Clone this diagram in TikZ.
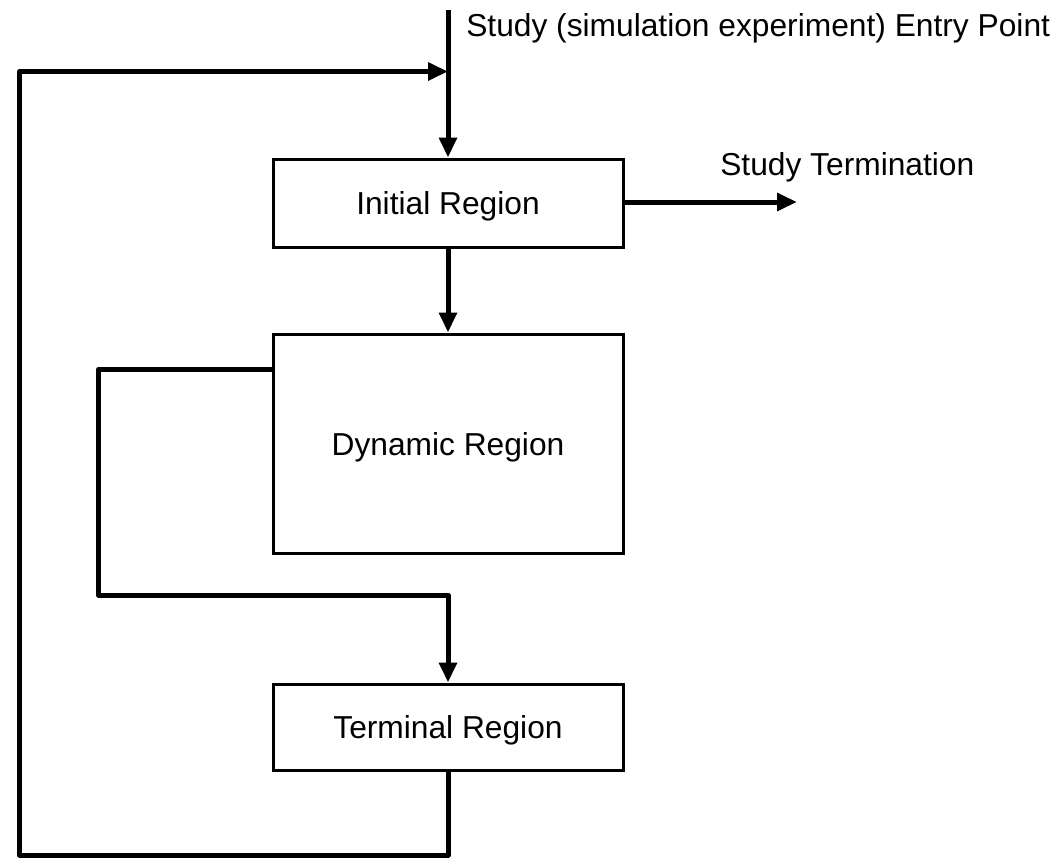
\documentclass[tikz,border=0pt]{standalone}
\usepackage{fontspec}
\setmainfont{Liberation Sans}
\usetikzlibrary{arrows.meta}
\begin{document}
\begin{tikzpicture}[x=0.75pt,y=-0.75pt,
  font=\fontsize{23.8}{28}\selectfont,
  regionbox/.style={draw,line width=2.25pt,minimum width=262.5pt,inner sep=0pt,text depth=0pt,anchor=center},
  flow/.style={line width=3.75pt,line join=round},
  flowarrow/.style={flow,-{Triangle[length=15pt,width=13pt]}},
  lbl/.style={anchor=base west,inner sep=0pt}]
\useasboundingbox (0,0) rectangle (1053,858);
\node[regionbox,minimum height=66pt] (init) at (448,203) {Initial Region};
\node[regionbox,minimum height=164.25pt] (dyn) at (448,443.5) {Dynamic Region};
\node[regionbox,minimum height=64.5pt] (term) at (448,727) {Terminal Region};
\node[lbl] (entrylbl) at (466,36) {Study (simulation experiment) Entry Point};
\node[lbl] (termlbl) at (720,175) {Study Termination};
\coordinate (top) at (448,10);
\coordinate (join) at (448,71.5);
\coordinate (exitpt) at (797,202);
\coordinate (bl) at (19.5,855);
\coordinate (tl) at (19.5,71.5);
\coordinate (br) at (448,855);
\coordinate (dl1) at (98.5,369.5);
\coordinate (dl2) at (98.5,595);
\coordinate (dl3) at (448,595);
\draw[flowarrow] (top) -- (init.north);
\draw[flowarrow] (init.east |- exitpt) -- (exitpt);
\draw[flowarrow] (init.south) -- (dyn.north);
\draw[flowarrow] (dyn.west |- dl1) -- (dl1) -- (dl2) -- (dl3) -- (term.north);
\draw[flowarrow] (term.south) -- (br) -- (bl) -- (tl) -- (join);
\end{tikzpicture}
\end{document}
